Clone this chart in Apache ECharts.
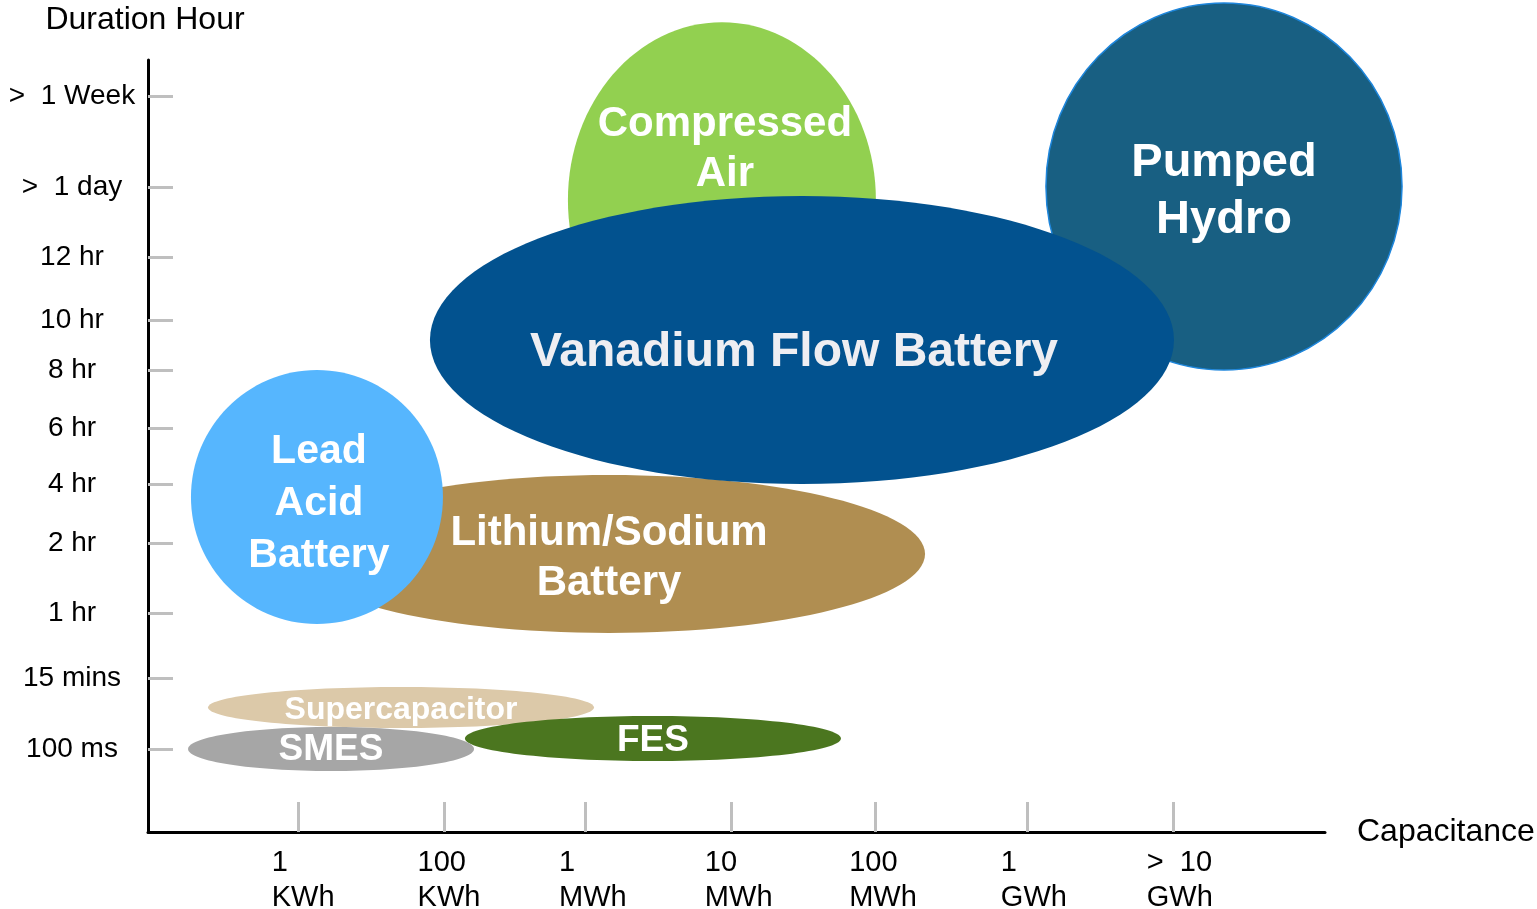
<!DOCTYPE html>
<html>
<head>
<meta charset="utf-8">
<script src="https://cdn.jsdelivr.net/npm/echarts@6/dist/echarts.min.js"></script>
<style>
html,body{margin:0;padding:0;background:#fff;}
#chart{width:1537px;height:909px;}
</style>
</head>
<body>
<div id="chart"></div>
<script>
// ---- Axis ticks ----
// capacity axis: tick positions (ordinal position along axis) and labels
const xTickPos = [0, 1, 1.97, 2.97, 3.96, 5.0, 6];
const xTickLabels = ['1\nKWh', '100\nKWh', '1\nMWh', '10\nMWh', '100\nMWh', '1\nGWh', '>  10\nGWh'];
// duration axis: tick positions (on a 0-100 duration scale) and labels
const yTickPos = [10.75, 19.95, 28.37, 37.44, 45.08, 52.33, 59.84, 66.32, 74.48, 83.55, 95.34];
const yTickLabels = ['100 ms', '15 mins', '1 hr', '2 hr', '4 hr', '6 hr', '8 hr', '10 hr', '12 hr', '>  1 day', '>  1 Week'];

// ---- Technologies: capacity range (x) and duration range (y) ----
const techNames = ['Compressed\nAir', 'Pumped\nHydro', 'Lithium/Sodium\nBattery', 'Vanadium Flow Battery', 'Lead\nAcid\nBattery', 'Supercapacitor', 'FES', 'SMES'];
const capMin = [1.851, 5.129, -0.034, 0.905, -0.734, -0.617, 1.145, -0.754];
const capMax = [3.963, 7.571, 4.300, 6.007, 0.994, 2.030, 3.723, 1.207];
const durMin = [58.81, 59.84, 25.78, 45.08, 26.94, 13.47, 9.20, 7.90];
const durMax = [104.9, 107.38, 46.24, 82.38, 59.84, 18.78, 15.03, 13.60];

// ---- Styles ----
const fills = ['#92D050', '#185F82', '#B08E51', '#02528F', '#56B6FE', '#DCC9A9', '#4B761F', '#A6A6A6'];
const strokes = [null, '#1E86DC', null, null, null, null, null, null];
const textColors = ['#FFFFFF', '#FFFFFF', '#FFFFFF', '#EEEEF2', '#FFFFFF', '#FFFFFF', '#FFFFFF', '#FFFFFF'];
const fontSizes = [42, 47, 42, 48, 41, 32, 37, 37];
const lineHeights = [50, 57, 50, 50, 52, 36, 40, 40];
const textOffX = [3, 0, 0, -8, 2, 0, 0, 0];
const textOffY = [-51, 5, 4, 13, 7, 3, 2, 1];

const FONT = '"Liberation Sans", Arial, Helvetica, sans-serif';

function makeSeries(i) {
  return {
    type: 'custom',
    z: 2 + i,
    clip: false,
    silent: true,
    data: [[capMin[i], capMax[i], durMin[i], durMax[i]]],
    renderItem: function (params, api) {
      const p0 = api.coord([api.value(0), api.value(2)]);
      const p1 = api.coord([api.value(1), api.value(3)]);
      const cx = (p0[0] + p1[0]) / 2, cy = (p0[1] + p1[1]) / 2;
      const rx = Math.abs(p1[0] - p0[0]) / 2, ry = Math.abs(p1[1] - p0[1]) / 2;
      const st = { fill: fills[i] };
      if (strokes[i]) { st.stroke = strokes[i]; st.lineWidth = 1.5; }
      return {
        type: 'group',
        children: [
          { type: 'ellipse', shape: { cx: cx, cy: cy, rx: rx, ry: ry }, style: st },
          {
            type: 'text', x: cx + textOffX[i], y: cy + textOffY[i],
            style: {
              text: techNames[i], fill: textColors[i],
              fontSize: fontSizes[i], fontWeight: 'bold', fontFamily: FONT,
              align: 'center', verticalAlign: 'middle', lineHeight: lineHeights[i]
            }
          }
        ]
      };
    }
  };
}

function nearestLabel(v, pos, labels) {
  let best = 0, d = Infinity;
  for (let k = 0; k < pos.length; k++) {
    const dd = Math.abs(pos[k] - v);
    if (dd < d) { d = dd; best = k; }
  }
  return labels[best];
}

const xLabelShift = 0.18;
const xLabelPos = xTickPos.map(v => v - xLabelShift);

const chart = echarts.init(document.getElementById('chart'));
chart.setOption({
  animation: false,
  backgroundColor: '#ffffff',
  grid: { left: 148, right: 212, top: 60, bottom: 77, containLabel: false, outerBoundsMode: 'none' },
  xAxis: {
    type: 'value',
    min: -1.0286, max: 7.0427,
    name: 'Capacitance', nameLocation: 'end', nameGap: 32,
    nameTextStyle: { fontSize: 32, color: '#000', fontFamily: FONT, verticalAlign: 'middle' },
    axisLine: { show: true, onZero: false, lineStyle: { color: '#000', width: 3 } },
    axisTick: { show: true, inside: true, length: 30, customValues: xTickPos, lineStyle: { color: '#BFBFBF', width: 3 } },
    axisLabel: {
      show: true, customValues: xLabelPos, align: 'left', margin: 13,
      fontSize: 29, lineHeight: 35, color: '#000', fontFamily: FONT,
      formatter: v => nearestLabel(v + xLabelShift, xTickPos, xTickLabels)
    },
    splitLine: { show: false }
  },
  yAxis: {
    type: 'value',
    min: 0, max: 100,
    name: 'Duration Hour', nameLocation: 'end', nameGap: 24,
    nameTextStyle: { fontSize: 32, color: '#000', fontFamily: FONT, align: 'center', padding: [0, 6, 0, 0] },
    axisLine: { show: true, onZero: false, lineStyle: { color: '#000', width: 3 } },
    axisTick: { show: true, inside: true, length: 25, customValues: yTickPos, lineStyle: { color: '#BFBFBF', width: 3 } },
    axisLabel: {
      show: true, customValues: yTickPos, align: 'center', margin: 76,
      fontSize: 28, color: '#000', fontFamily: FONT, padding: [6, 0, 0, 0],
      formatter: v => nearestLabel(v, yTickPos, yTickLabels)
    },
    splitLine: { show: false }
  },
  series: techNames.map((_, i) => makeSeries(i))
});
</script>
</body>
</html>
